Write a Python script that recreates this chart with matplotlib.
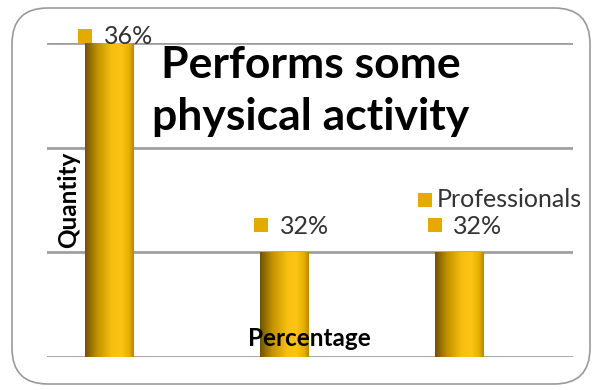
import numpy as np
import matplotlib
matplotlib.use("Agg")
import matplotlib.pyplot as plt
from matplotlib.patches import FancyBboxPatch, Rectangle
from matplotlib.colors import LinearSegmentedColormap

categories = ["Group A", "Group B", "Group C"]
values = [36, 32, 32]
labels = ["36%", "32%", "32%"]
series_name = "Professionals"
title = "Performs some\nphysical activity"

W, H = 596, 390
fig = plt.figure(figsize=(W / 100, H / 100), dpi=100)
fig.patch.set_facecolor("white")

# rounded frame
frame = FancyBboxPatch((12 / W, 6 / H), 578 / W, 376 / H,
                       boxstyle="round,pad=0,rounding_size=0.06",
                       transform=fig.transFigure, facecolor="none",
                       edgecolor="#9a9a9a", linewidth=1.2, mutation_aspect=W / H,
                       zorder=-5)
fig.patches.append(frame)

ax = fig.add_axes([47 / W, 1 - 357 / H, 526 / W, (357 - 43) / H])
ax.set_facecolor("none")
ax.set_yticks([30, 32, 34, 36])
ax.grid(axis="y", color="#a0a0a0", linewidth=2)
ax.set_axisbelow(True)
for s in ax.spines.values():
    s.set_visible(False)
ax.tick_params(left=False, bottom=False, labelleft=False, labelbottom=False)

cmap = LinearSegmentedColormap.from_list(
    "gold", [(0.0, "#6e5200"), (0.25, "#c29200"), (0.55, "#f7bf10"),
             (0.75, "#fcc514"), (0.9, "#e6b000"), (1.0, "#b38a00")])
grad = np.linspace(0, 1, 256).reshape(1, -1)
bw = 0.28
x = np.arange(len(values))
bars = ax.bar(x, np.array(values) - 30, bottom=30, width=bw, color="none",
              edgecolor="none", zorder=2)
for b in bars:
    x0, y0 = b.get_x(), b.get_y()
    im = ax.imshow(grad, cmap=cmap, extent=[x0, x0 + b.get_width(), y0, y0 + b.get_height()],
                   aspect="auto", zorder=2, interpolation="bilinear")
    im.set_clip_path(b)
ax.set_xlim(-0.36, 2.646)
ax.set_ylim(30, 36)

fam = ["Lato", "DejaVu Sans"]
marker_c = "#e5aa00"


def key(px, py):
    fig.patches.append(Rectangle((px / W, 1 - (py + 7) / H), 14 / W, 14 / H,
                                 transform=fig.transFigure, facecolor=marker_c,
                                 edgecolor="none", zorder=5))


lab_pos = [(78, 36, 104), (254, 225, 280), (428, 225, 453)]
for (px, py, tx), t in zip(lab_pos, labels):
    key(px, py)
    fig.text(tx / W, 1 - (py + 1) / H, t, color="#333333", fontsize=18,
             ha="left", va="center", family=fam, zorder=6)
key(418, 200)
fig.text(437 / W, 1 - 200 / H, series_name, color="#333333", fontsize=18,
         ha="left", va="center", family=fam, zorder=6)

fig.text(311 / W, 1 - 91 / H, title, ha="center", va="center", fontsize=32,
         fontweight="bold", family=fam, linespacing=1.38, color="black", zorder=6)
fig.text(69 / W, 1 - 200 / H, "Quantity", rotation=90, ha="center", va="center",
         fontsize=17.5, fontweight="bold", family=fam, zorder=6)
fig.text(309 / W, 1 - 338 / H, "Percentage", ha="center", va="center",
         fontsize=17.5, fontweight="bold", family=fam, zorder=6)

fig.savefig("out.png", dpi=100, facecolor="white")
